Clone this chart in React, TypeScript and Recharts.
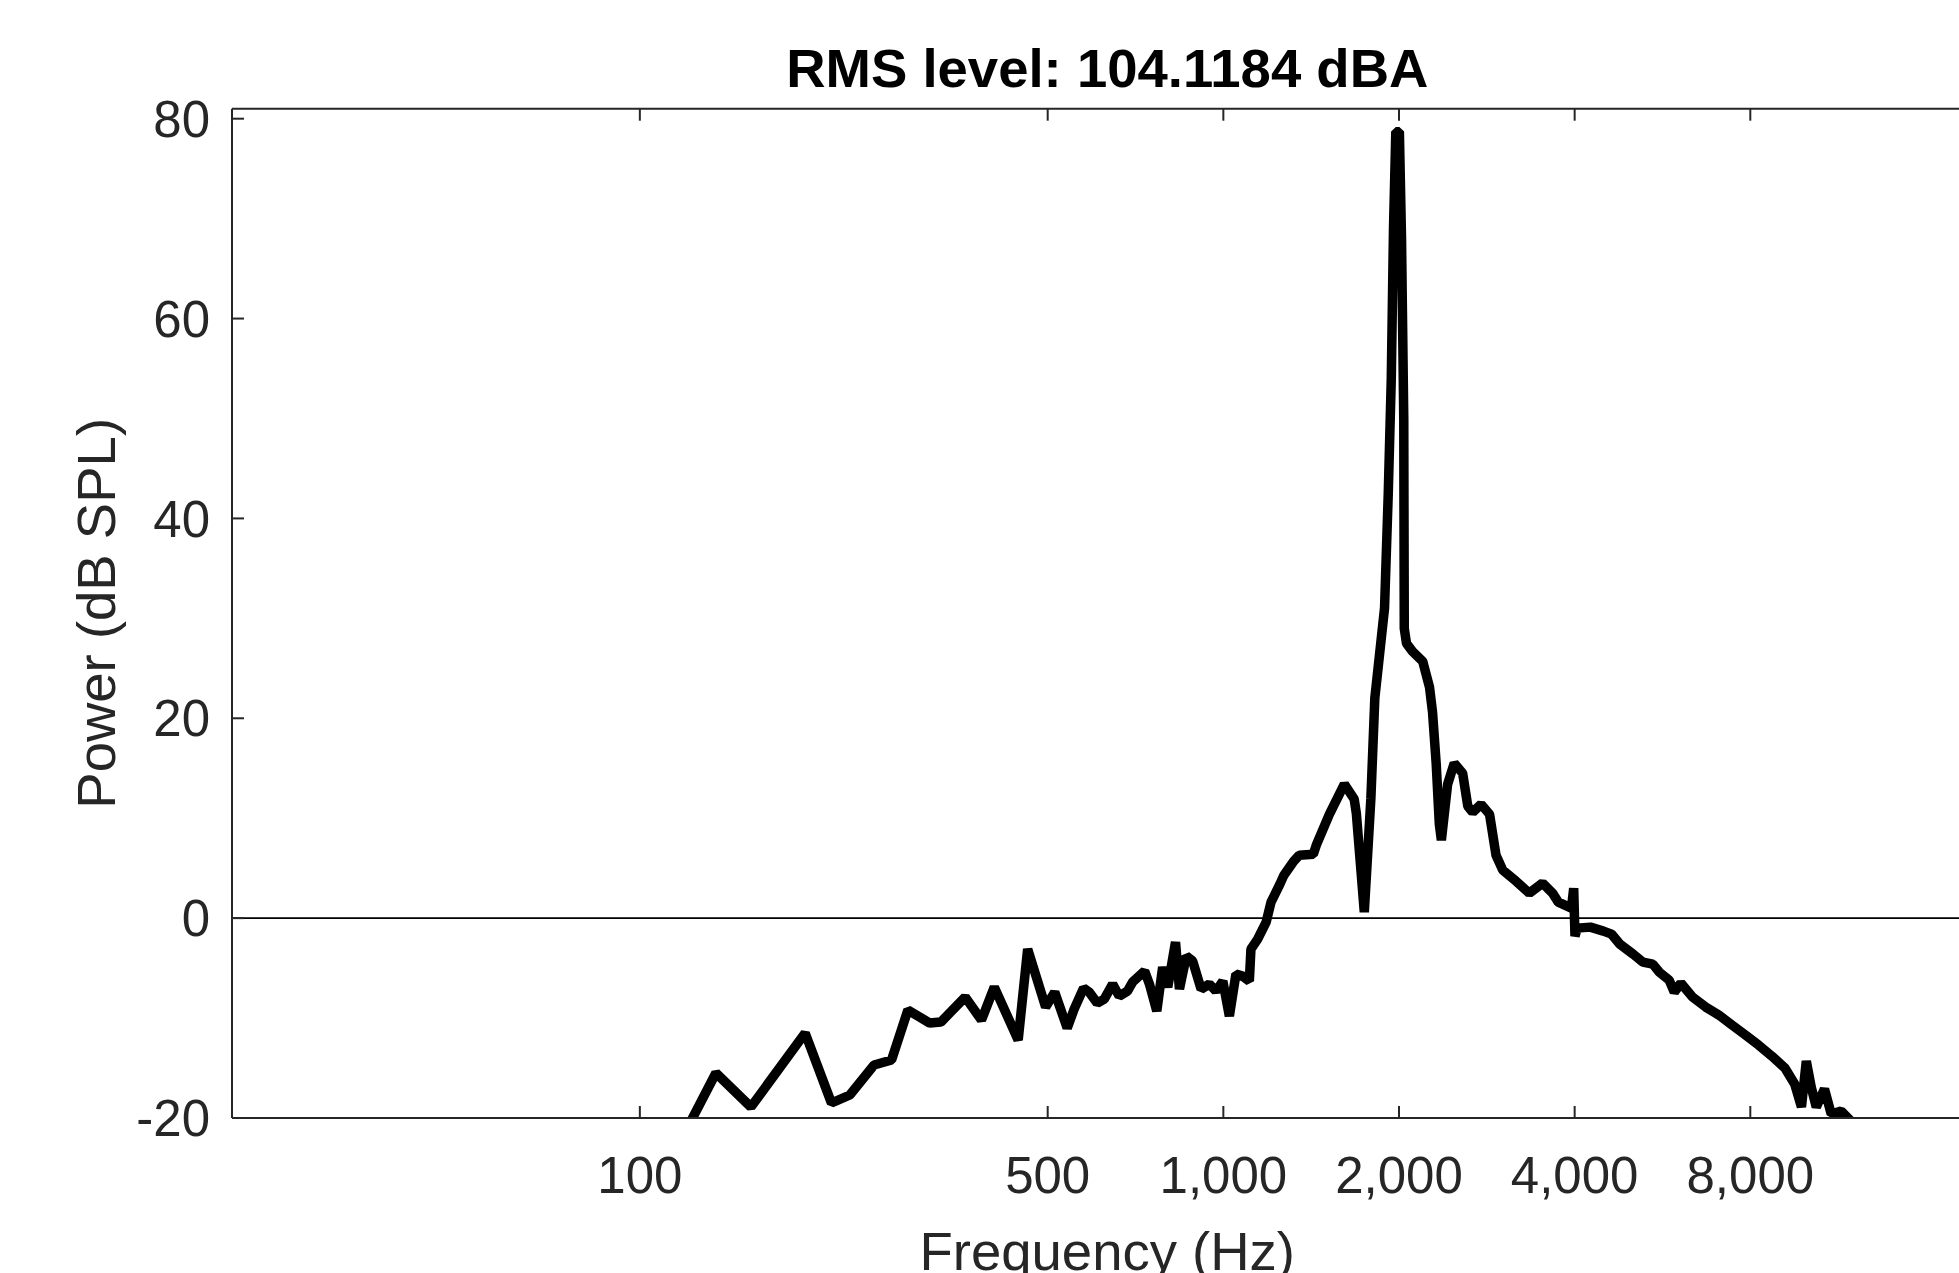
import React from 'react';
import { LineChart, Line, XAxis, YAxis, ReferenceLine, Label } from 'recharts';

// spectrum (Hz, dB SPL)
const frequencies = [
  117, 135, 155, 192, 213, 229, 252, 270, 288, 314, 328, 361, 385, 405, 445, 462, 496, 514, 540, 555,
  576, 589, 608, 625, 646, 663, 685, 699, 733, 747, 769, 787, 803, 828, 841, 864, 886, 916, 946, 971,
  998, 1024, 1051, 1079, 1108, 1115, 1145, 1184, 1207, 1250, 1270, 1320, 1349, 1426, 1443, 1520, 1612, 1676, 1690, 1744,
  1790, 1818, 1889, 1917, 1940, 1957, 1975, 2003, 2020, 2038, 2042, 2060, 2109, 2196, 2256, 2283, 2316, 2345, 2364, 2423,
  2487, 2571, 2624, 2675, 2765, 2859, 2933, 3012, 3174, 3345, 3524, 3666, 3750, 3950, 3985, 4005, 4040, 4255, 4481, 4627,
  4781, 5038, 5236, 5445, 5585, 5808, 5927, 6083, 6368, 6709, 7066, 7442, 7847, 8265, 8707, 9171, 9530, 9789, 9979, 10182,
  10380, 10720, 11010, 11450, 11900, 12600,
];

const powerLevels = [
  -22.5, -15.5, -18.9, -11.5, -18.5, -17.7, -14.7, -14.2, -9.2, -10.5, -10.4, -7.9, -10.2, -6.9, -12.2, -3.1, -8.9, -7.4, -11.0, -9.1,
  -7.0, -7.4, -8.5, -8.1, -6.6, -7.8, -7.3, -6.4, -5.3, -6.6, -9.3, -4.9, -6.9, -2.4, -7.1, -3.8, -4.3, -7.1, -6.6, -7.3,
  -6.3, -9.8, -5.6, -5.8, -6.3, -3.1, -2.1, -0.4, 1.6, 3.4, 4.3, 5.7, 6.3, 6.4, 7.3, 10.4, 13.4, 11.9, 10.5, 0.6,
  12.0, 22.0, 31.0, 42.5, 54.0, 69.0, 78.7, 78.7, 68.0, 50.0, 29.0, 27.5, 26.7, 25.7, 23.1, 20.6, 15.5, 9.4, 7.8, 13.4,
  15.5, 14.5, 11.2, 10.6, 11.4, 10.4, 6.3, 4.8, 3.7, 2.5, 3.5, 2.5, 1.6, 1.0, 3.0, -1.8, -1.0, -0.9, -1.3, -1.6,
  -2.6, -3.6, -4.4, -4.6, -5.4, -6.2, -7.4, -6.5, -7.9, -8.9, -9.7, -10.7, -11.7, -12.7, -13.8, -15.0, -16.6, -18.9, -14.3, -17.0,
  -18.9, -17.1, -19.6, -19.3, -20.3, -22.5,
];

const xTicks = [100, 500, 1000, 2000, 4000, 8000];
const yTicks = [-20, 0, 20, 40, 60, 80];
const freqDomain = [20, 20000];
const powerDomain = [-20, 81];

const chartTitle = 'RMS level: 104.1184 dBA';
const xLabel = 'Frequency (Hz)';
const yLabel = 'Power (dB SPL)';

const data = frequencies.map((f, i) => ({ freq: f, power: powerLevels[i] }));

const FONT = '"Liberation Sans", Arial, Helvetica, sans-serif';
const AXIS_COLOR = '#262626';

const formatFreq = (v: number) => v.toLocaleString('en-US');

const TitleLabel = ({ viewBox }: any) => (
  <text
    x={viewBox.x + viewBox.width / 2}
    y={87}
    textAnchor="middle"
    fontFamily={FONT}
    fontSize={54.5}
    fontWeight="bold"
    fill="#000"
  >
    {chartTitle}
  </text>
);

const XAxisLabel = ({ viewBox }: any) => (
  <text
    x={viewBox.x + viewBox.width / 2}
    y={1270}
    textAnchor="middle"
    fontFamily={FONT}
    fontSize={54.5}
    fill={AXIS_COLOR}
  >
    {xLabel}
  </text>
);

const YAxisLabel = ({ viewBox }: any) => {
  const cy = viewBox.y + viewBox.height / 2;
  return (
    <text
      x={115}
      y={cy}
      transform={`rotate(-90, 115, ${cy})`}
      textAnchor="middle"
      fontFamily={FONT}
      fontSize={54.5}
      fill={AXIS_COLOR}
    >
      {yLabel}
    </text>
  );
};

export default function App() {
  const tickStyle = { fontSize: 51, fill: AXIS_COLOR, fontFamily: FONT };
  return (
    <div style={{ position: 'absolute', left: 0, top: 0, width: 1959, height: 1273, overflow: 'hidden', background: '#fff' }}>
      <LineChart
        width={2000}
        height={1273}
        data={data}
        margin={{ top: 107.7, right: 17.5, bottom: 0, left: 82 }}
        accessibilityLayer={false}
      >
        <XAxis
          xAxisId="bottom"
          dataKey="freq"
          type="number"
          scale="log"
          domain={freqDomain}
          allowDataOverflow
          ticks={xTicks}
          interval={0}
          tickFormatter={formatFreq}
          height={155}
          tickSize={-12}
          tickMargin={51}
          tick={tickStyle}
          axisLine={{ stroke: AXIS_COLOR, strokeWidth: 2 }}
          tickLine={{ stroke: AXIS_COLOR, strokeWidth: 2 }}
        >
          <Label content={<XAxisLabel />} />
        </XAxis>
        {/* mirrored box edge on top, ticks only */}
        <XAxis
          xAxisId="top"
          orientation="top"
          dataKey="freq"
          type="number"
          scale="log"
          domain={freqDomain}
          allowDataOverflow
          ticks={xTicks}
          interval={0}
          height={1}
          tickSize={-12}
          tickFormatter={() => ''}
          tick={{ fontSize: 1 }}
          axisLine={{ stroke: AXIS_COLOR, strokeWidth: 2 }}
          tickLine={{ stroke: AXIS_COLOR, strokeWidth: 2 }}
        >
          <Label content={<TitleLabel />} />
        </XAxis>
        <YAxis
          type="number"
          domain={powerDomain}
          allowDataOverflow
          ticks={yTicks}
          interval={0}
          width={150}
          tickSize={-12}
          tickMargin={34}
          tick={tickStyle}
          axisLine={{ stroke: AXIS_COLOR, strokeWidth: 2 }}
          tickLine={{ stroke: AXIS_COLOR, strokeWidth: 2 }}
        >
          <Label content={<YAxisLabel />} />
        </YAxis>
        <ReferenceLine xAxisId="bottom" y={0} stroke="#000" strokeWidth={1.6} />
        <Line
          xAxisId="bottom"
          type="linear"
          dataKey="power"
          stroke="#000"
          strokeWidth={9.5}
          strokeLinejoin="bevel"
          dot={false}
          activeDot={false}
          isAnimationActive={false}
        />
      </LineChart>
    </div>
  );
}
